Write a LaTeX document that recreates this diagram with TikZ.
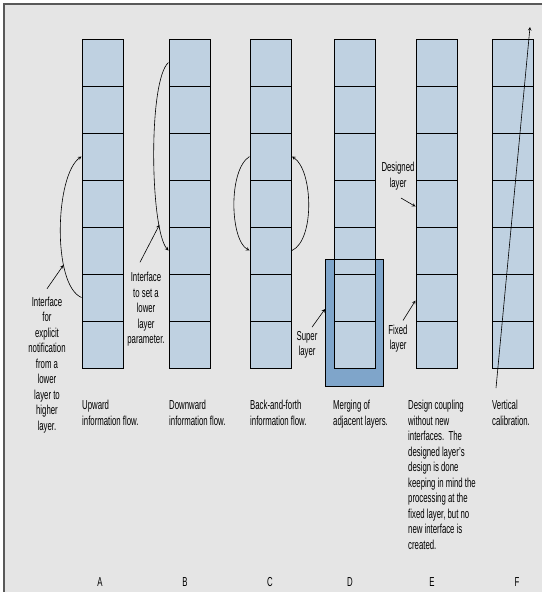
\documentclass[tikz,border=0pt]{standalone}
\usepackage{fontspec}
\setmainfont{Liberation Sans}[FakeStretch=0.6]
\usepackage{tikz}
\definecolor{layerblue}{HTML}{BFD1E1}
\definecolor{superblue}{HTML}{7FA5CA}
\definecolor{panelgray}{HTML}{E5E5E5}

\begin{document}
\begin{tikzpicture}[x=1pt,y=-1pt,>=stealth,
  cell/.style={draw=black,fill=layerblue,line width=1pt,minimum width=41.5pt,minimum height=47pt,inner sep=0pt},
  superbox/.style={fill=superblue,minimum width=57.5pt,minimum height=126pt,inner sep=0pt},
  note/.style={align=center,font=\fontsize{13}{15.5}\selectfont,inner sep=0pt},
  caption/.style={align=left,anchor=north west,font=\fontsize{13}{15.5}\selectfont,inner sep=0pt},
  flow/.style={->,line width=0.6pt}]
\useasboundingbox (0,0) rectangle (542,592);
\fill[panelgray] (4,4) rectangle (542,592);
\draw[line width=1.2pt,black!65] (542,4) -- (4,4) -- (4,592);

\node[superbox] (super) at (354,323) {};
\foreach \x/\c in {82/A,169/B,250/C,334/D,416/E,492/F}
  \foreach \k in {1,...,7}
    \node[cell] (\c\k) at (\x+20.75,15.5+47*\k) {};
\draw[line width=0.9pt] (super.north west) rectangle (super.south east);

\draw[flow] (A6.west) .. controls (52,285) and (55,175) .. (A3.west) coordinate[pos=0.3] (ahit);
\draw[flow] (B1.west) .. controls (148,80) and (150,230) .. (B5.west) coordinate[pos=0.8] (bhit);
\draw[flow] (C3.west) .. controls (228,170) and (230,240) .. (C5.west);
\draw[flow] (C5.east) .. controls (315,240) and (313,170) .. (C3.east);
\coordinate (fbot) at (496,388);
\coordinate (ftop) at (530,27);
\draw[flow] (fbot) -- (ftop);

\node[note] (anote) at (47,365) {Interface\\for\\explicit\\notification\\from a\\lower\\layer to\\higher\\layer.};
\node[note] (bnote) at (146,309.5) {Interface\\to set a\\lower\\layer\\parameter.};
\node[note] (snote) at (307,345) {Super\\layer};
\node[note] (dnote) at (398,176) {Designed\\layer};
\node[note] (fnote) at (398,338.5) {Fixed\\layer};
\draw[flow] ([yshift=8pt]anote.north) -- (ahit);
\draw[flow] ([xshift=-6pt,yshift=10pt]bnote.north) -- (bhit);
\draw[flow] ([xshift=5pt,yshift=4pt]snote.north) -- ([yshift=14pt]super.west);
\draw[flow] ([xshift=3pt,yshift=-8pt]dnote.south) -- ([yshift=-3pt]E4.west);
\draw[flow] ([xshift=5pt,yshift=4pt]fnote.north) -- ([yshift=-3pt]E6.west);

\node[caption] (acap) at (82,400) {Upward\\information flow.};
\node[caption] (bcap) at (169,400) {Downward\\information flow.};
\node[caption] (ccap) at (250,400) {Back-and-forth\\information flow.};
\node[caption] (dcap) at (333,400) {Merging of\\adjacent layers.};
\node[caption] (ecap) at (408,400) {Design coupling\\without new\\interfaces.\ \ The\\designed layer's\\design is done\\keeping in mind the\\processing at the\\fixed layer, but no\\new interface is\\created.};
\node[caption] (fcap) at (492,400) {Vertical\\calibration.};

\foreach \x/\l in {100/A,185/B,270/C,350/D,432/E,517/F}
  \node[note] (lab\l) at (\x,582) {\l};
\end{tikzpicture}
\end{document}
